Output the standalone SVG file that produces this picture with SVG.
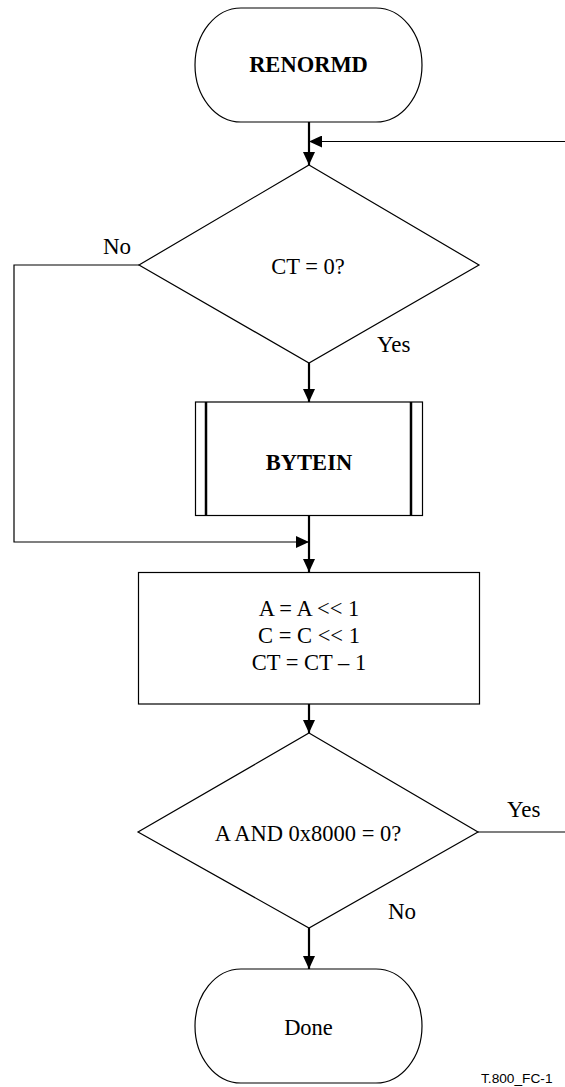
<svg xmlns="http://www.w3.org/2000/svg" width="565" height="1087" viewBox="0 0 565 1087">
<style>
.shape{fill:#fff;stroke:#000;stroke-width:1.2}
.t{font-family:"Liberation Serif","Times New Roman",serif;font-size:22.5px;fill:#000;text-anchor:middle}
.b{font-weight:bold}
.l{font-family:"Liberation Serif","Times New Roman",serif;font-size:23px;fill:#000}
.thick{fill:none;stroke:#000;stroke-width:2.2}
.thin{fill:none;stroke:#000;stroke-width:1.2}
.bar{stroke:#000;stroke-width:2.5}
</style>
<defs>
<marker id="ah" markerUnits="userSpaceOnUse" markerWidth="13" markerHeight="12" refX="13" refY="6" orient="auto">
<path d="M0,0 L13,6 L0,12 z" fill="#000"/>
</marker>
</defs>
<rect width="565" height="1087" fill="#fff"/>
<g id="connectors">
<path class="thick" d="M309,122 V165" marker-end="url(#ah)"/>
<path class="thin" d="M565,141.5 H309" marker-end="url(#ah)"/>
<path class="thick" d="M309,363 V402" marker-end="url(#ah)"/>
<path class="thick" d="M309,515.5 V572" marker-end="url(#ah)"/>
<path class="thin" d="M139,265 H14 V542 H309" marker-end="url(#ah)"/>
<path class="thick" d="M309,704 V733" marker-end="url(#ah)"/>
<path class="thin" d="M478,832 H565"/>
<path class="thick" d="M309,928 V969" marker-end="url(#ah)"/>
<text class="l" x="103" y="254">No</text>
<text class="l" x="377" y="352">Yes</text>
<text class="l" x="507" y="817">Yes</text>
<text class="l" x="388" y="919">No</text>
</g>
<g id="start">
<rect class="shape" x="195" y="8" width="227" height="114" rx="46" ry="57"/>
<text class="t b" x="308.5" y="72">RENORMD</text>
</g>
<g id="ct-check">
<polygon class="shape" points="309,165 479,265 309,363 139,265"/>
<text class="t" x="308" y="274">CT = 0?</text>
</g>
<g id="bytein">
<rect class="shape" x="195.5" y="402" width="227" height="113.5"/>
<line class="bar" x1="206" y1="402" x2="206" y2="515.5"/>
<line class="bar" x1="411" y1="402" x2="411" y2="515.5"/>
<text class="t b" x="309" y="470">BYTEIN</text>
</g>
<g id="shift">
<rect class="shape" x="138.5" y="572.5" width="341" height="131.5"/>
<text class="t" x="309" y="616">A = A &lt;&lt; 1</text>
<text class="t" x="309" y="643">C = C &lt;&lt; 1</text>
<text class="t" x="309" y="670">CT = CT – 1</text>
</g>
<g id="a-check">
<polygon class="shape" points="309,733 478,832 309,928 138,832"/>
<text class="t" x="308" y="841">A AND 0x8000 = 0?</text>
</g>
<g id="done">
<rect class="shape" x="195" y="969" width="227" height="114" rx="46" ry="57"/>
<text class="t" x="308.5" y="1035">Done</text>
</g>
<text x="481" y="1083" font-family="'Liberation Sans',Arial,sans-serif" font-size="13.7" fill="#000">T.800_FC-1</text>
</svg>
